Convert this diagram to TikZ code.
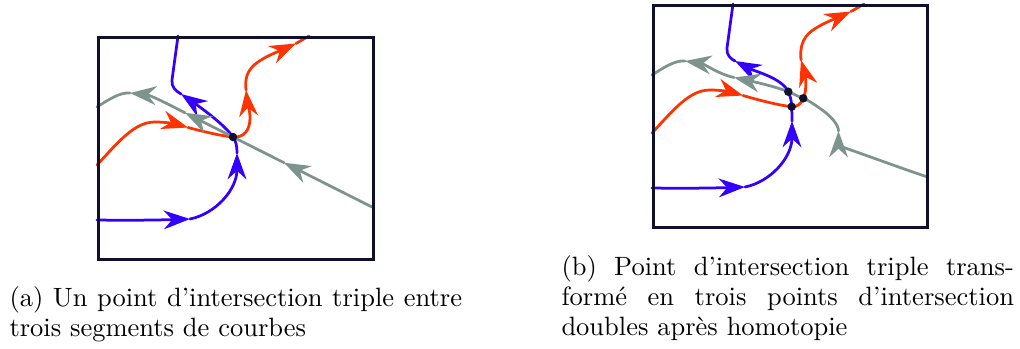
\documentclass[tikz,border=0pt]{standalone}
\usetikzlibrary{arrows.meta}
\definecolor{cblue}{HTML}{3300FF}
\definecolor{cred}{HTML}{FF3300}
\definecolor{cgray}{HTML}{7D948E}
\definecolor{cframe}{HTML}{10102E}
\tikzset{
  curve/.style={line width=1.1pt, line cap=round, line join=round},
  bl/.style={curve, draw=cblue},
  rd/.style={curve, draw=cred},
  gy/.style={curve, draw=cgray},
  tip/.style={-{Stealth[length=10.5pt,width=7.5pt,inset=3.4pt,sharp]}},
  frame/.style={draw=cframe, line width=1.3pt},
  dot/.style={fill=cframe},
  capt/.style={anchor=base west, inner sep=0pt, text width=181pt, align=justify,
    font=\fontsize{10.6pt}{12pt}\selectfont}
}
\begin{document}
\begin{tikzpicture}[x=0.4pt, y=-0.4pt]
\useasboundingbox (0,0) rectangle (1020,348);
% ---------------- panel (a) ----------------
\coordinate (aX) at (233,137);
% blue
\draw[bl, tip] (97,220) .. controls (130,220.5) and (160,220) .. (190,219);
\draw[bl, tip] (190,219) .. controls (215,214) and (237,190) .. (237,153);
\draw[bl, tip] (237,153) .. controls (237,146) and (236,141) .. (aX)
   .. controls (225,125) and (200,107) .. (181,94);
\draw[bl] (181,94) .. controls (176,91) and (171,87) .. (172,80) -- (178,36);
% red
\draw[rd, tip] (97,165) .. controls (120,140) and (135,122) .. (155,122)
   .. controls (168,122) and (178,124.5) .. (188,127.5);
\draw[rd, tip] (188,127.5) .. controls (205,132) and (222,136) .. (aX)
   .. controls (244,138) and (250,130) .. (250,118)
   .. controls (250,110) and (247,100) .. (246,90);
\draw[rd, tip] (246,90) .. controls (245,80) and (246,70) .. (258,62)
   .. controls (268,55) and (282,50) .. (296,43.5);
\draw[rd] (296,43.5) -- (309,36);
% gray
\draw[gy, tip] (372,207) -- (284,162.7);
\draw[gy, tip] (284,162.7) -- (aX) -- (185,112.8);
\draw[gy, tip] (185,112.8) .. controls (168,104) and (150,95) .. (130,93);
\draw[gy] (130,93) .. controls (120,92) and (108,100) .. (97,107);
\fill[dot] (aX) circle (1.7pt);
\node[frame, draw, inner sep=0pt, minimum width=110pt, minimum height=88.8pt, anchor=north west] (fa) at (97,36) {};
% ---------------- panel (b) ----------------
\coordinate (bD1) at (788.3,91.7);
\coordinate (bD2) at (791.7,106.7);
\coordinate (bD3) at (803.3,98.3);
% blue
\draw[bl, tip] (652,188) .. controls (685,188.5) and (715,188) .. (745,187);
\draw[bl, tip] (745,187) .. controls (770,182) and (792,158) .. (792,121);
\draw[bl, tip] (792,121) .. controls (792,115) and (791.8,110) .. (bD2)
   .. controls (791.5,100) and (790,95.5) .. (bD1)
   .. controls (782,78) and (754,71) .. (735,61);
\draw[bl] (735,61) .. controls (731,59) and (726,55) .. (727,48) -- (733,4);
% red
\draw[rd, tip] (652,133) .. controls (675,108) and (690,90) .. (710,90)
   .. controls (723,90) and (733,92.5) .. (743,95.5);
\draw[rd, tip] (743,95.5) .. controls (760,100.5) and (780,105.5) .. (bD2)
   .. controls (797,107.2) and (801,104) .. (bD3)
   .. controls (807.5,90) and (805,74) .. (801,60);
\draw[rd, tip] (801,60) .. controls (800,50) and (801,38) .. (813,30)
   .. controls (823,23) and (837,18) .. (851,11.5);
\draw[rd] (851,11.5) -- (864,4);
% gray
\draw[gy, tip] (926,176.5) .. controls (895,166) and (860,153) .. (845,148)
   .. controls (840,146) and (838.5,144) .. (838.5,131);
\draw[gy, tip] (838.5,131) .. controls (838.5,124) and (830,115) .. (818,107)
   .. controls (812,103) and (808,100) .. (bD3)
   .. controls (798,96.5) and (793,93.5) .. (bD1)
   .. controls (775,86.5) and (755,82) .. (734,77.5);
\draw[gy, tip] (734,77.5) .. controls (718,74) and (705,64) .. (685,61);
\draw[gy] (685,61) .. controls (675,60) and (663,68) .. (652,75);
\fill[dot] (bD1) circle (1.7pt);
\fill[dot] (bD2) circle (1.7pt);
\fill[dot] (bD3) circle (1.7pt);
\node[frame, draw, inner sep=0pt, minimum width=109.6pt, minimum height=88.8pt, anchor=north west] (fb) at (652,4) {};
% ---------------- captions ----------------
\node[capt] (ca) at (9,306) {(a) Un point d'intersection triple entre\linebreak trois segments de courbes};
\node[capt] (cb) at (561,275) {(b) Point d'intersection triple trans-\linebreak formé en trois points d'intersection\linebreak doubles après homotopie};
\end{tikzpicture}
\end{document}
